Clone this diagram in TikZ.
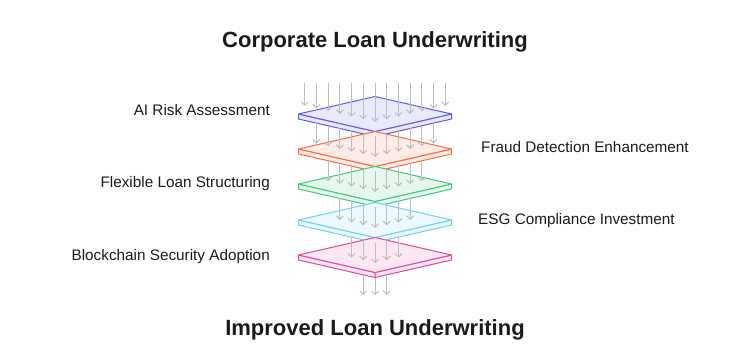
\documentclass[tikz,border=0pt]{standalone}
\usepackage{fontspec}
\setmainfont{Liberation Sans}
\usetikzlibrary{arrows.meta,positioning,calc}
\definecolor{PlateIndigo}{HTML}{5B5BEF}
\definecolor{PlateCoral}{HTML}{FF6A3D}
\definecolor{PlateMint}{HTML}{3CC97F}
\definecolor{PlateSky}{HTML}{6DD0F7}
\definecolor{PlatePink}{HTML}{E8449B}
\definecolor{FlowGray}{HTML}{BDBDBD}
\definecolor{InkDark}{HTML}{1A1A1A}
\tikzset{plate/.style={draw=#1,fill=#1!13,line width=1pt,line join=round},
  flow/.style={-{Straight Barb[length=3.5pt,width=7pt]},line width=1pt,FlowGray},
  heading/.style={font=\fontsize{22}{26}\selectfont\bfseries,text=InkDark,inner sep=0pt},
  tagtext/.style={font=\fontsize{15.3}{18}\selectfont,text=InkDark,inner sep=0pt}}

\begin{document}
\begin{tikzpicture}[x=1pt,y=-1pt]
\useasboundingbox (0,0) rectangle (750,350);
\node[heading,anchor=base] (source) at (375,48) {Corporate Loan Underwriting};
\node[heading,anchor=base] (result) at (375,335) {Improved Loan Underwriting};
% stacked plates
\foreach \cy/\col [count=\k from 0] in {114/PlateIndigo,149/PlateCoral,184/PlateMint,220/PlateSky,255/PlatePink}{
  \filldraw[plate=\col] (298.5,\cy) -- (375,\cy+17.5) -- (375,\cy+22.5) -- (298.5,\cy+5) -- cycle;
  \filldraw[plate=\col] (451.5,\cy) -- (375,\cy+17.5) -- (375,\cy+22.5) -- (451.5,\cy+5) -- cycle;
  \filldraw[plate=\col] (298.5,\cy) -- (375,\cy-17.5) -- (451.5,\cy) -- (375,\cy+17.5) -- cycle;
  \coordinate (p\k) at (298.5,\cy);
}
% flows through the plates
\foreach \j [evaluate=\j as \px using 375+11.7*\j, evaluate=\j as \ye using 122-2.68*abs(\j)] in {-6,...,6}
  \draw[flow] (\px,83) -- (\px,\ye);
\foreach \upper/\lower/\lo/\hi in {114/149/-5/5,149/184/-4/4,184/220/-3/3,220/255/-2/2}{
  \foreach \j in {\lo,...,\hi}{
    \pgfmathsetmacro{\px}{375+11.7*\j}
    \pgfmathsetmacro{\ys}{\upper+22.5-2.68*abs(\j)}
    \pgfmathsetmacro{\ye}{\lower+8-2.68*abs(\j)}
    \draw[flow] (\px,\ys) -- (\px,\ye);
  }
}
\foreach \j [evaluate=\j as \px using 375+11.7*\j, evaluate=\j as \ys using 277.5-2.68*abs(\j)] in {-1,0,1}
  \draw[flow] (\px,\ys) -- (\px,295);
% labels
\node[tagtext,anchor=base east] (risk) at (270,116) {AI Risk Assessment};
\node[tagtext,anchor=base west] (fraud) at (481,153) {Fraud Detection Enhancement};
\node[tagtext,anchor=base east] (flex) at (270,188) {Flexible Loan Structuring};
\node[tagtext,anchor=base west] (esg) at (478,224) {ESG Compliance Investment};
\node[tagtext,anchor=base east] (chain) at (270,260) {Blockchain Security Adoption};
\end{tikzpicture}
\end{document}
